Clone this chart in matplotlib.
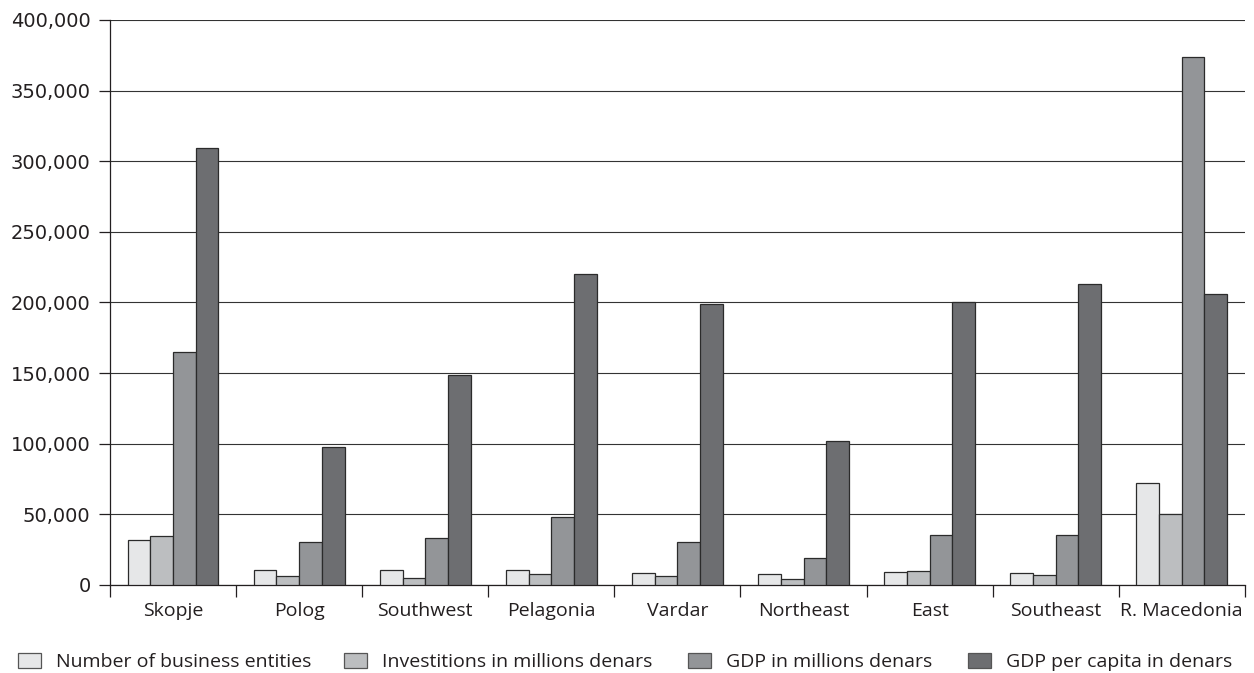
import numpy as np
import matplotlib
matplotlib.use('Agg')
import matplotlib.pyplot as plt
from matplotlib.ticker import FuncFormatter, FixedLocator
from matplotlib.patches import Patch

plt.rcParams['font.family'] = ['Open Sans', 'DejaVu Sans']

regions = ['Skopje', 'Polog', 'Southwest', 'Pelagonia', 'Vardar',
           'Northeast', 'East', 'Southeast', 'R. Macedonia']

# valores
business_entities = [32000, 10500, 10500, 10500, 8700, 7500, 9000, 8700, 72500]
investitions      = [34500, 6100, 4700, 7800, 6400, 4000, 9700, 6900, 50500]
gdp_millions      = [165000, 30600, 33000, 47900, 30600, 19100, 35200, 35200, 373500]
gdp_per_capita    = [309500, 98000, 149000, 220500, 199000, 102000, 200000, 213300, 205700]

series = [business_entities, investitions, gdp_millions, gdp_per_capita]
labels = ['Number of business entities', 'Investitions in millions denars',
          'GDP in millions denars', 'GDP per capita in denars']
colores = ['#e6e7e8', '#bcbec0', '#939598', '#6d6e71']
txt_col = '#231f20'

fig = plt.figure(figsize=(12.54, 6.73), dpi=100)
ax = fig.add_axes([0.0877, 0.1308, 0.905, 0.8395])

x = np.arange(len(regions))
ancho = 0.18
for i, (vals, col) in enumerate(zip(series, colores)):
    ax.bar(x + (i - 1.5) * ancho, vals, ancho, color=col, edgecolor='#2b2b2b',
           linewidth=0.9, zorder=3)

ax.set_xlim(-0.5, len(regions) - 0.5)
ax.set_ylim(0, 400000)
ax.set_yticks(np.arange(0, 400001, 50000))
ax.yaxis.set_major_formatter(FuncFormatter(lambda v, p: '{:,.0f}'.format(v)))
ax.grid(axis='y', color='#333333', linewidth=0.8, zorder=0)

ax.set_xticks(x)
ax.set_xticklabels(regions)
ax.xaxis.set_minor_locator(FixedLocator(np.arange(-0.5, len(regions), 1.0)))
ax.tick_params(axis='x', which='major', length=0, pad=12, labelsize=14, colors=txt_col)
ax.tick_params(axis='x', which='minor', length=8.5, width=0.9, color=txt_col)
ax.tick_params(axis='y', length=8, width=0.9, color=txt_col, labelsize=14,
               labelcolor=txt_col, pad=6)
for t in ax.get_yticklabels():
    t.set_family(['DejaVu Sans'])

for lado in ['top', 'right']:
    ax.spines[lado].set_visible(False)
for lado in ['left', 'bottom']:
    ax.spines[lado].set_color(txt_col)
    ax.spines[lado].set_linewidth(0.9)

# leyenda: cada entrada en su lugar
pos_x = [18, 344, 688, 968]
for lab, col, px in zip(labels, colores, pos_x):
    h = Patch(facecolor=col, edgecolor='#555555', linewidth=0.9)
    fig.legend([h], [lab], loc='center left', bbox_to_anchor=(px / 1254, 1 - 662 / 673),
               frameon=False, fontsize=14, borderpad=0, borderaxespad=0,
               handlelength=1.2, handleheight=0.85, handletextpad=0.75,
               labelcolor=txt_col)

fig.savefig('out.png', dpi=100)
